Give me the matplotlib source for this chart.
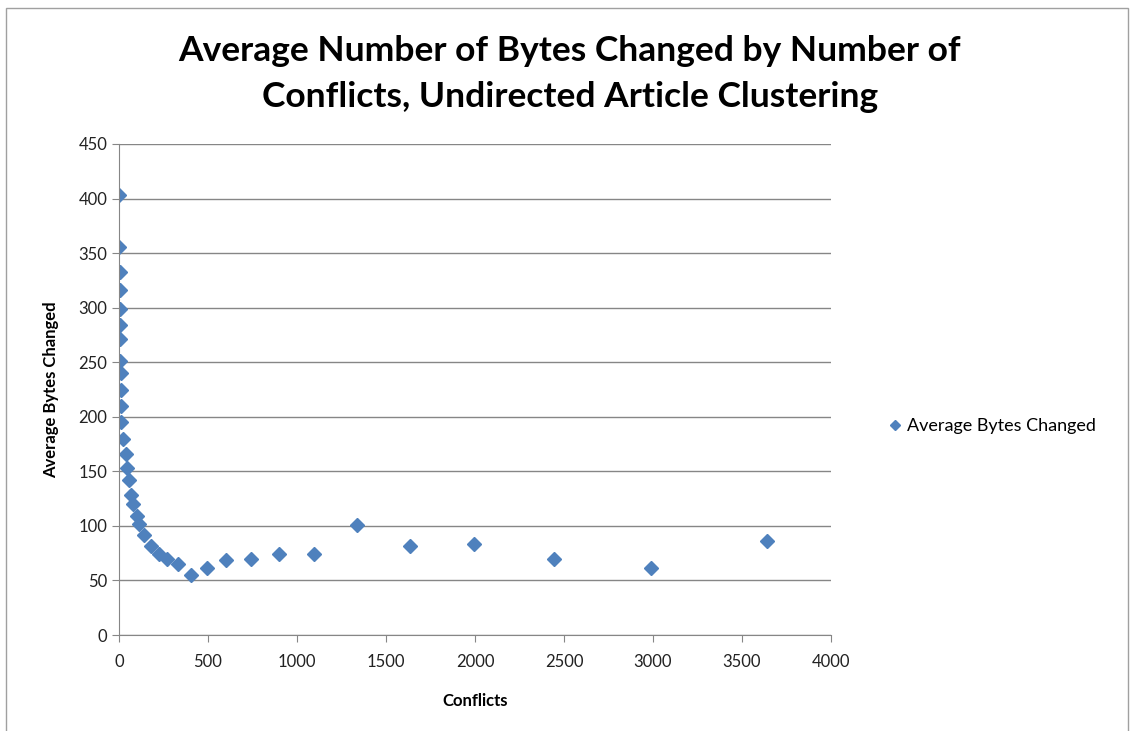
import matplotlib.pyplot as plt
from matplotlib.patches import Rectangle

# Data
conflicts = [1, 2, 3, 4, 5, 6, 7, 8, 9, 10, 11, 13,
             24, 38, 47, 56, 66, 80, 99, 114, 142, 178, 226, 271, 333,
             404, 493, 601, 740, 899, 1097, 1339, 1635, 1996, 2446, 2987, 3642]
avg_bytes = [403, 356, 333, 316, 299, 284, 271, 251, 240, 225, 210, 195,
             180, 166, 153, 142, 128, 120, 109, 102, 92, 82, 74, 70, 65,
             55, 61, 69, 70, 74, 74, 101, 82, 83, 70, 61, 86]

xticks = [0, 500, 1000, 1500, 2000, 2500, 3000, 3500, 4000]
yticks = [0, 50, 100, 150, 200, 250, 300, 350, 400, 450]

plt.rcParams['font.family'] = ['Lato', 'DejaVu Sans']

fig = plt.figure(figsize=(11.34, 7.31), dpi=100)
W, H = 1134, 731
ax = fig.add_axes([119 / W, 1 - 635 / H, (831 - 119) / W, (635 - 144) / H])

# outer chart border
fig.patches.append(Rectangle((6 / W, -0.01), (1128 - 6) / W, 1 - 8 / H + 0.01,
                             transform=fig.transFigure, fill=False,
                             edgecolor='#a0a0a0', linewidth=1.0))

ax.plot(conflicts, avg_bytes, linestyle='none', marker='D', markersize=7,
        color='#4f81bd', label='Average Bytes Changed')

ax.set_xlim(0, 4000)
ax.set_ylim(0, 450)
ax.set_xticks(xticks)
ax.set_yticks(yticks)
ax.grid(axis='y', color='#868686', linewidth=1.0)
ax.set_axisbelow(True)
for s in ['top', 'right']:
    ax.spines[s].set_visible(False)
for s in ['left', 'bottom']:
    ax.spines[s].set_color('#868686')
ax.tick_params(axis='both', direction='out', length=5, color='#868686',
               labelsize=12, labelcolor='#222222')
ax.tick_params(axis='x', pad=9)

ax.set_xlabel('Conflicts', fontsize=12, fontweight='bold', labelpad=16)
ax.set_ylabel('Average Bytes Changed', fontsize=12, fontweight='bold', labelpad=14)

fig.text(570 / W, 1 - 74 / H,
         'Average Number of Bytes Changed by Number of\nConflicts, Undirected Article Clustering',
         ha='center', va='center', fontsize=25.5, fontweight='bold', linespacing=1.55)

ax.legend(loc='center left', bbox_to_anchor=(1.055, 0.425), frameon=False,
          fontsize=13, handletextpad=0.15, handlelength=1.0, markerscale=0.7)

fig.savefig('out.png', dpi=100)
